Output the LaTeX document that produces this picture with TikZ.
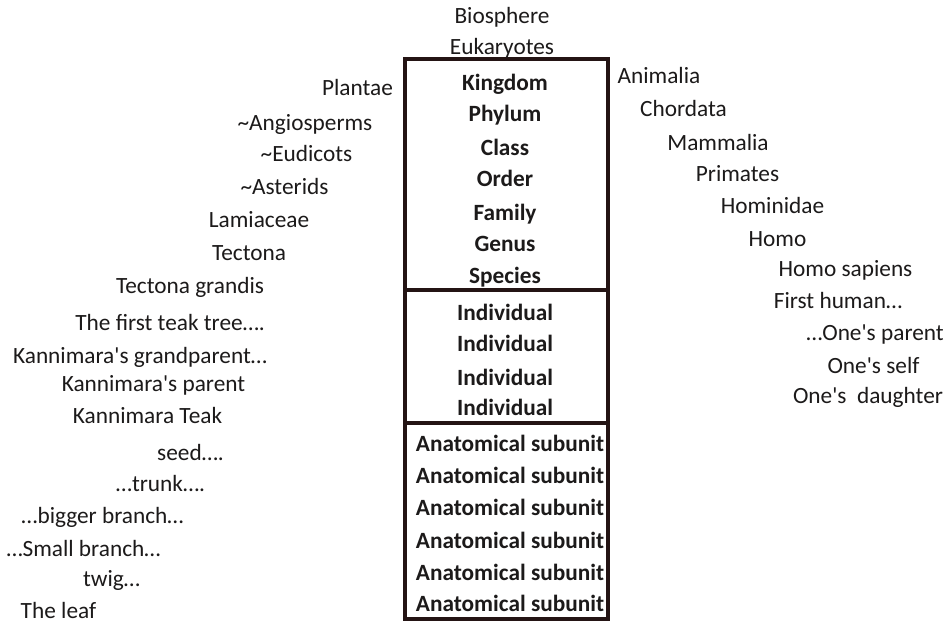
\documentclass[tikz,border=0pt]{standalone}
\usepackage{fontspec}
\setmainfont{Carlito}
\usepackage{tikz}

\definecolor{ink}{HTML}{1C1A1A}
\definecolor{frame}{HTML}{241414}
\newcommand{\ap}{\textquotesingle}

\tikzset{
  lbl/.style={inner sep=0pt, text height=0.66em, text depth=0.2em, text=ink,
    yshift=-6pt, font=\fontsize{23.3}{26}\selectfont},
  rank/.style={lbl, font=\fontsize{23.3}{26}\selectfont\bfseries},
}

\begin{document}
\begin{tikzpicture}[x=1pt, y=-1pt]
\useasboundingbox[fill=white] (0,0) rectangle (951,625);

% frame of the ranks
\coordinate (tl) at (405,59);  \coordinate (br) at (608,619);
\coordinate (d1l) at (405,290); \coordinate (d1r) at (608,290);
\coordinate (d2l) at (405,423); \coordinate (d2r) at (608,423);
\draw[frame, line width=3.3pt] (tl) rectangle (br);
\draw[frame, line width=3.3pt] (d1l) -- (d1r);
\draw[frame, line width=3.3pt] (d2l) -- (d2r);

% above the frame
\node[lbl] (bio) at (502,15) {Biosphere};
\node[lbl] (euk) at (502,46) {Eukaryotes};

% ranks
\node[rank] (kingdom) at (505,82) {Kingdom};
\node[rank] (phylum) at (505,113) {Phylum};
\node[rank] (class) at (505,147) {Class};
\node[rank] (order) at (505,178) {Order};
\node[rank] (family) at (505,212) {Family};
\node[rank] (genus) at (505,243) {Genus};
\node[rank] (species) at (505,275) {Species};
\node[rank] (indA) at (505,312) {Individual};
\node[rank] (indB) at (505,343) {Individual};
\node[rank] (indC) at (505,377) {Individual};
\node[rank] (indD) at (505,407) {Individual};
\node[rank] (subA) at (510,443) {Anatomical subunit};
\node[rank] (subB) at (510,475) {Anatomical subunit};
\node[rank] (subC) at (510,507) {Anatomical subunit};
\node[rank] (subD) at (510,540) {Anatomical subunit};
\node[rank] (subE) at (510,572) {Anatomical subunit};
\node[rank] (subF) at (510,603) {Anatomical subunit};

% teak side
\node[lbl] (plantae) at (357.5,87) {Plantae};
\node[lbl] (angio) at (305,122) {\textasciitilde Angiosperms};
\node[lbl] (eudi) at (306.5,153) {\textasciitilde Eudicots};
\node[lbl] (aster) at (284.5,186) {\textasciitilde Asterids};
\node[lbl] (lamia) at (259,219) {Lamiaceae};
\node[lbl] (tectona) at (249,252) {Tectona};
\node[lbl] (grandis) at (190,285) {Tectona grandis};
\node[lbl] (firsttree) at (170,322) {The first teak tree….};
\node[lbl] (kgrand) at (140,355) {Kannimara\ap s grandparent…};
\node[lbl] (kparent) at (153.5,383) {Kannimara\ap s parent};
\node[lbl] (kteak) at (147.5,415) {Kannimara Teak};
\node[lbl] (seed) at (190.5,452) {seed….};
\node[lbl] (trunk) at (160.5,483) {…trunk….};
\node[lbl] (bigbr) at (102.5,515) {…bigger branch…};
\node[lbl] (smallbr) at (83.5,548) {…Small branch…};
\node[lbl] (twig) at (111.5,578) {twig…};
\node[lbl] (leaf) at (58.5,610) {The leaf};

% human side
\node[lbl] (animalia) at (659,75) {Animalia};
\node[lbl] (chordata) at (683.5,108) {Chordata};
\node[lbl] (mammalia) at (718,142) {Mammalia};
\node[lbl] (primates) at (737.5,173) {Primates};
\node[lbl] (hominidae) at (772.5,205) {Hominidae};
\node[lbl] (homo) at (777.5,238) {Homo};
\node[lbl] (sapiens) at (845.5,268) {Homo sapiens};
\node[lbl] (firsthum) at (838,300) {First human…};
\node[lbl] (oparent) at (875,332) {…One\ap s parent};
\node[lbl] (oself) at (873.5,365) {One\ap s self};
\node[lbl] (odaughter) at (868,395) {One\ap s\ \ daughter};
\end{tikzpicture}
\end{document}
